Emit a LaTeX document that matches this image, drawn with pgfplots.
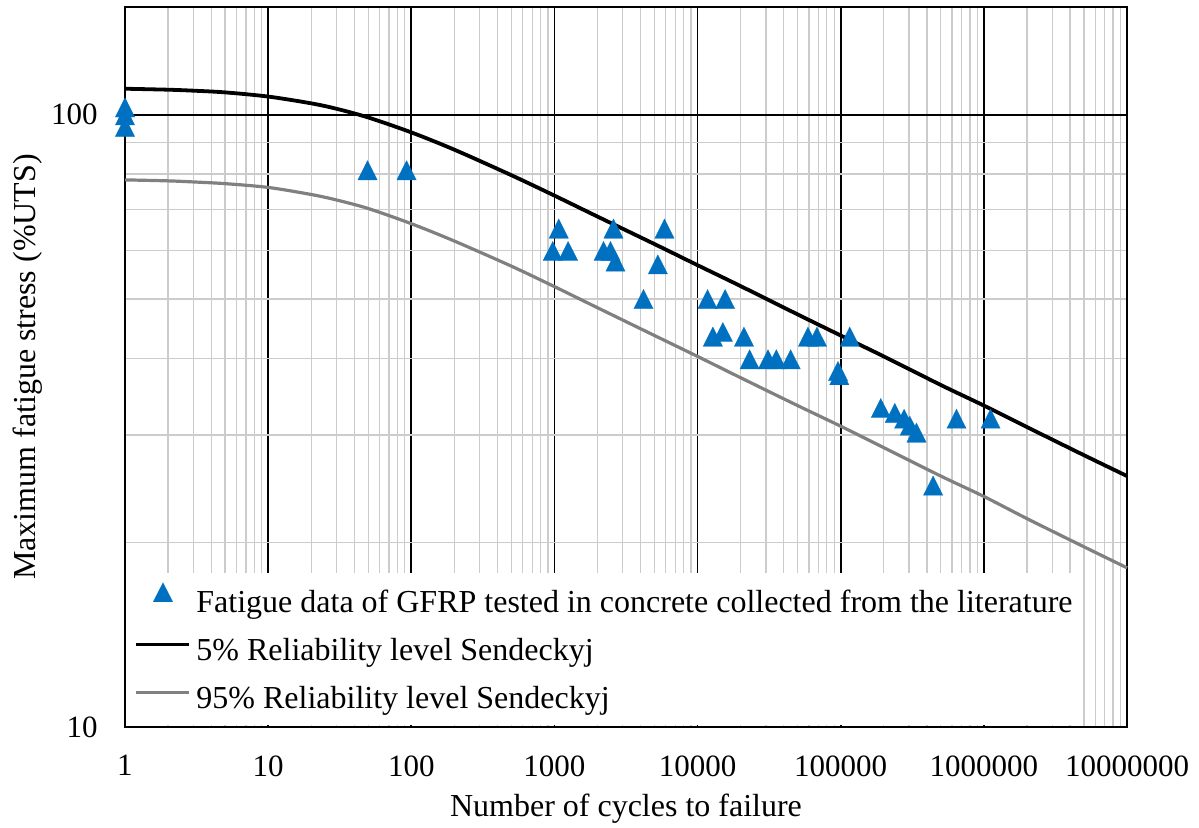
\documentclass[border=0pt]{standalone}
\usepackage{fontspec}
\setmainfont{Liberation Serif}
\usepackage{pgfplots}
\pgfplotsset{compat=1.18}
\definecolor{ptblue}{HTML}{0070C0}
\pgfplotsset{
  lineleg/.style={legend image code/.code={\draw[##1] (0pt,4pt) -- (26.5pt,4pt);}},
  markleg/.style={legend image code/.code={\draw[##1] plot coordinates {(13.25pt,4.5pt)};}},
}

\begin{document}
\begin{tikzpicture}[font=\fontsize{16}{19}\selectfont]
\path[use as bounding box] (-62.5pt,-50pt) rectangle (537pt,363.5pt);
\begin{axis}[
  at={(0,0)}, anchor=south west,
  scale only axis, width=501pt, height=360pt,
  xmode=log, ymode=log,
  xmin=1, xmax=1e7, ymin=10, ymax=150,
  clip=false,
  xtick={1,10,100,1000,10000,100000,1000000,10000000},
  xticklabels={1,10,100,1000,10000,100000,1000000,10000000},
  minor xtick={2,3,4,5,6,7,8,9,
    20,30,40,50,60,70,80,90,
    200,300,400,500,600,700,800,900,
    2000,3000,4000,5000,6000,7000,8000,9000,
    20000,30000,40000,50000,60000,70000,80000,90000,
    200000,300000,400000,500000,600000,700000,800000,900000,
    2000000,3000000,4000000,5000000,6000000,7000000,8000000,9000000},
  ytick={10,100}, yticklabels={10,100},
  minor ytick={20,30,40,50,60,70,80,90},
  grid=both,
  major grid style={black, line width=0.85pt},
  minor grid style={gray!40, line width=0.65pt},
  major tick length=0pt, minor tick length=0pt,
  axis line style={black, line width=1.1pt},
  ticklabel style={font=\fontsize{15.5}{18}\selectfont},
  xticklabel style={inner sep=0pt, anchor=north, yshift=-14pt},
  yticklabel style={inner sep=0pt, anchor=east, xshift=-13.5pt},
  xlabel={Number of cycles to failure},
  ylabel={Maximum fatigue stress (\%UTS)},
  xlabel style={at={(axis description cs:0.5,0)}, anchor=center, yshift=-41pt},
  ylabel style={at={(axis description cs:0,0.5)}, anchor=center, yshift=48.5pt},
  legend cell align=left,
  legend style={at={(axis description cs:0,0)}, anchor=south west,
    xshift=0.6pt, yshift=0.6pt, draw=none, fill=white,
    inner xsep=4pt, inner ysep=5pt, row sep=9pt, column sep=2.5pt,
    nodes={inner sep=0pt, text height=11.5pt, text depth=3.5pt}},
]

% test results
\addplot[only marks, mark=triangle*, mark size=5.6pt,
  mark options={fill=ptblue, draw=ptblue, line width=0.1pt, yscale=1.15},
  markleg]
  coordinates {
  (1,101.6) (1,98.6) (1,94.4)
  (49.5,80.2) (92.7,80.2)
  (1072,64.4) (973,59.2) (1247,59.2)
  (2586,64.4) (2203,59.2) (2464,59.2) (2671,56.9)
  (5875,64.4) (5277,56.3) (4190,49.4)
  (11740,49.4) (15570,49.4) (12790,42.9) (15030,43.65)
  (21090,42.9) (23110,39.4) (31030,39.4) (35490,39.4) (44690,39.4)
  (59040,42.9) (68230,42.9) (115600,42.9)
  (95720,37.7) (97700,37.1)
  (190500,32.8) (238600,32.2) (277300,31.5) (303900,30.7) (338200,29.9)
  (644000,31.5) (1114000,31.5) (441900,24.5)
  };
\addlegendentry{Fatigue data of GFRP tested in concrete collected from the literature}

% Sendeckyj curve, 5% reliability
\addplot[black, line width=1.9pt, smooth, lineleg]
  coordinates {
  (1,110.3) (2,109.9) (3,109.5) (5,108.8) (10,107.1) (20,104.4) (30,102.3)
  (50,99.0) (100,93.6) (200,87.7) (500,79.7) (1000,73.8) (2000,68.2)
  (5000,61.5) (10000,56.8) (20000,52.5) (50000,47.2) (100000,43.6)
  (200000,40.3) (500000,36.2) (1000000,33.5) (2000000,30.9)
  (5000000,27.8) (10000000,25.7)
  };
\addlegendentry{5\% Reliability level Sendeckyj}

% Sendeckyj curve, 95% reliability
\addplot[gray, line width=1.6pt, smooth, lineleg]
  coordinates {
  (1,78.3) (2,78.0) (3,77.7) (5,77.2) (10,76.1) (20,74.1) (30,72.6)
  (50,70.3) (100,66.4) (200,62.2) (500,56.6) (1000,52.4) (2000,48.4)
  (5000,43.6) (10000,40.3) (20000,37.2) (50000,33.5) (100000,31.0)
  (200000,28.6) (500000,25.7) (1000000,23.8) (2000000,21.9)
  (5000000,19.7) (10000000,18.2)
  };
\addlegendentry{95\% Reliability level Sendeckyj}

\end{axis}
\end{tikzpicture}
\end{document}
